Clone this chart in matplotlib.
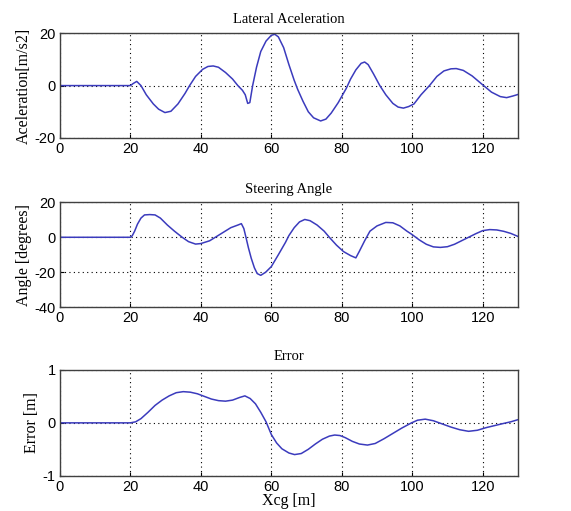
import matplotlib

matplotlib.use("Agg")
import matplotlib.pyplot as plt

# ---- data ----
acc_x = [0, 20, 20.8, 21.8, 23, 24.5, 26.5, 28, 29.8, 31.5, 33.5, 35.5, 36.8, 38.5,
         40.5, 42, 43.5, 45, 47, 49, 50.5, 51.8, 52.6, 53.3, 53.9, 54.7, 55.8, 57,
         58.5, 60, 61, 62, 63.5, 65, 66.5, 67.5, 69, 70.5, 72, 74, 75.5, 77, 79,
         81.3, 82.5, 84, 85.5, 86.5, 87.5, 89, 90.8, 92.5, 94.5, 96, 97.5, 99,
         100.5, 102.5, 104.9, 107, 109, 111, 112.5, 114.5, 117, 120, 122.5, 125,
         126.8, 128.5, 130]
acc_y = [0, 0, 0.8, 1.6, 0, -3.5, -7, -9, -10.3, -9.8, -7, -3, 0, 3.5,
         6.2, 7.3, 7.5, 7, 5, 2.5, 0, -1.8, -3.5, -6.8, -6.5, 0, 7, 13,
         17, 19.2, 19.6, 18.6, 14.5, 8, 2, -1.5, -6, -10, -12.3, -13.5, -12.8, -10.5, -6.5,
         -1, 2.5, 6, 8.5, 9, 8, 4.5, 0, -3.5, -6.8, -8.2, -8.6, -8,
         -7, -3.5, 0, 3.5, 5.6, 6.4, 6.5, 5.8, 3.7, 0.3, -2.5, -4.2,
         -4.6, -4, -3.4]

steer_x = [0, 20, 20.5, 21.2, 22, 23, 24, 25.5, 27, 28.5, 30.5, 32.5, 34.7, 36.5,
           38.5, 40, 42.5, 44.5, 46.5, 48.5, 50.5, 51.5, 52.2, 52.8, 53.5, 54.3,
           55.2, 56, 57, 58.4, 60, 62, 64, 65, 66.5, 68, 69.5, 71, 73, 75, 76.6,
           78.5, 80.5, 82.5, 84, 85, 86.5, 88, 90, 92.5, 94.5, 96.5, 98.5, 100,
           102, 104, 106, 108, 110, 112, 114, 116, 118, 120, 122, 124, 126, 128, 130]
steer_y = [0, 0, 0.8, 3.5, 7.5, 11, 12.8, 13, 12.8, 11, 7, 3.5, 0, -2.5,
           -3.9, -3.6, -2, 0.5, 3, 5.5, 7, 7.8, 5, 0, -6, -12,
           -17.5, -20.8, -21.8, -20, -16.8, -10, -3, 1, 5.5, 8.8, 10.2, 9.5, 7, 3.5, -0.3,
           -4.5, -8.2, -10.5, -11.8, -8, -2, 3.5, 6.5, 8.5, 8.3, 6.5, 3.5, 1.5,
           -1.5, -4, -5.5, -5.8, -5.4, -4, -2, 0, 2, 3.8, 4.4, 4.2, 3.4, 2.2, 0.5]

err_x = [0, 20, 21.5, 23, 25, 27, 29, 31, 33, 35, 37, 39, 41, 43, 45, 47, 49, 51,
         52.5, 54, 55.5, 57, 58.5, 60, 61.5, 63, 65, 66.6, 68.5, 70.5, 72.5, 74.5,
         76.5, 78, 79.5, 81, 83, 85, 87.3, 89.5, 92, 94.5, 97, 99.8, 101.5, 103.7,
         106, 108.5, 111, 113.5, 116, 118.5, 121, 123.5, 126, 128, 130]
err_y = [0, 0, 0.02, 0.08, 0.2, 0.33, 0.43, 0.51, 0.57, 0.59, 0.58, 0.55, 0.5, 0.45,
         0.42, 0.41, 0.43, 0.48, 0.51, 0.46, 0.36, 0.2, 0.02, -0.22, -0.38, -0.49,
         -0.57, -0.6, -0.58, -0.5, -0.4, -0.31, -0.25, -0.23, -0.24, -0.28, -0.35,
         -0.4, -0.42, -0.39, -0.3, -0.2, -0.1, 0, 0.05, 0.07, 0.04, -0.02, -0.08,
         -0.13, -0.16, -0.14, -0.09, -0.05, -0.01, 0.02, 0.06]

titles = ["Lateral Aceleration", "Steering Angle", "Error"]
ylabels = ["Aceleration[m/s2]", "Angle [degrees]", "Error [m]"]
yticks = [[-20, 0, 20], [-40, -20, 0, 20], [-1, 0, 1]]
xticks = [0, 20, 40, 60, 80, 100, 120]

LINE = "#3b3bbd"
SERIF = "Liberation Serif"
SANS = "Liberation Sans"

plt.rcParams["axes.unicode_minus"] = False

fig = plt.figure(figsize=(5.71, 5.11), dpi=100, facecolor="white")

# axes boxes in figure fractions (left, bottom, width, height)
boxes = [
    [0.105, 0.730, 0.802, 0.205],
    [0.105, 0.399, 0.802, 0.205],
    [0.105, 0.069, 0.802, 0.207],
]
series = [(acc_x, acc_y), (steer_x, steer_y), (err_x, err_y)]

for i, box in enumerate(boxes):
    ax = fig.add_axes(box)
    x, y = series[i]
    ax.plot(x, y, color=LINE, lw=1.1)
    ax.set_xlim(0, 130)
    ax.set_ylim(yticks[i][0], yticks[i][-1])
    ax.set_xticks(xticks)
    ax.set_yticks(yticks[i])
    ax.grid(True, color="black", linestyle=(0, (1, 3)), linewidth=0.8)
    ax.tick_params(direction="in", length=3, width=0.8, labelsize=10.5,
                   colors="black", pad=3)
    for lab in ax.get_xticklabels() + ax.get_yticklabels():
        lab.set_fontfamily(SANS)
    for sp in ax.spines.values():
        sp.set_color("#404040")
        sp.set_linewidth(1.0)
    ax.set_title(titles[i], fontsize=10.5, family=SERIF, pad=7)
    ax.set_ylabel(ylabels[i], fontsize=11.5, family=SERIF, labelpad=2)
    if i == 2:
        ax.set_xlabel("Xcg [m]", fontsize=11.5, family=SERIF, labelpad=-1)

fig.savefig("out.png", dpi=100, facecolor="white")
plt.close(fig)
